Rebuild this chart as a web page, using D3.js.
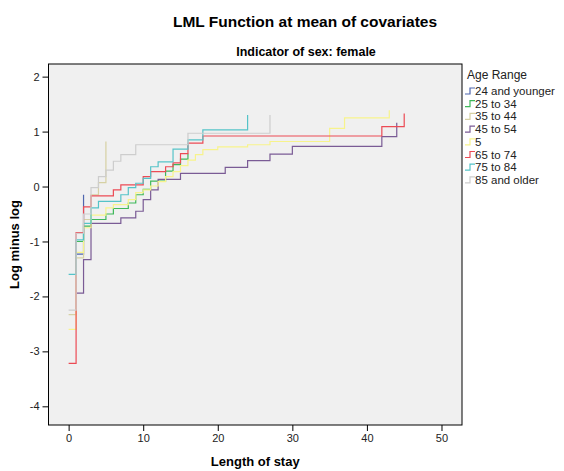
<!DOCTYPE html>
<html>
<head>
<meta charset="utf-8">
<script src="https://cdn.jsdelivr.net/npm/d3@7"></script>
<style>
  body { margin: 0; background: #ffffff; overflow: hidden; }
  svg { display: block; }
  text { font-family: Arial, "Liberation Sans", sans-serif; }
</style>
</head>
<body>
<div id="plotdiv"></div>
<script>
// Size of the figure
var outerWidth = 564;
var outerHeight = 471;
// Plot box inside the figure
var margin = { left: 48.5, top: 64, right: 102, bottom: 46 };
var innerWidth  = outerWidth  - margin.left - margin.right;
var innerHeight = outerHeight - margin.top  - margin.bottom;

// Legend labels, in drawing order
var groups = ["24 and younger", "25 to 34", "35 to 44", "45 to 54", "5", "65 to 74", "75 to 84", "85 and older"];
var colours = ["#4f66ae", "#3fb85a", "#d6d1a4", "#7a5b95", "#f7f38c", "#ec4b55", "#55c3c8", "#cdcdcd"];

// Step times (days) and log minus log values, one pair per group
var timesA = [1, 2];
var valsA  = [-1.23, -0.15];
var timesB = [1, 2, 3, 5, 6, 8, 9, 10, 11, 13, 14, 15, 16];
var valsB  = [-1.0, -0.72, -0.6, -0.5, -0.4, -0.3, -0.15, -0.05, 0.1, 0.28, 0.4, 0.5, 0.6];
var timesC = [0, 1, 2, 3, 4, 5];
var valsC  = [-2.33, -1.3, -0.6, -0.15, 0.07, 0.82];
var timesD = [1, 2, 3, 7, 9, 10, 11, 12, 15, 21, 24, 27, 30, 42, 44];
var valsD  = [-1.94, -1.33, -0.67, -0.57, -0.45, -0.24, -0.06, 0.13, 0.24, 0.35, 0.47, 0.59, 0.73, 0.91, 1.16];
var timesE = [0, 1, 2, 3, 5, 6, 8, 9, 10, 11, 12, 13, 14, 15, 16, 17, 18, 20, 24, 27, 35, 37, 43];
var valsE  = [-2.6, -1.2, -0.75, -0.52, -0.39, -0.33, -0.24, -0.11, -0.06, 0.01, 0.09, 0.18, 0.27, 0.38, 0.48, 0.58, 0.67, 0.72, 0.76, 0.82, 1.06, 1.25, 1.39];
var timesF = [0, 1, 2, 3, 6, 7, 10, 11, 13, 14, 15, 16, 18, 42, 45];
var valsF  = [-3.22, -0.84, -0.37, -0.17, -0.06, 0.03, 0.18, 0.27, 0.36, 0.43, 0.6, 0.79, 0.92, 1.09, 1.33];
var timesG = [0, 1, 2, 3, 4, 7, 8, 9, 10, 11, 12, 14, 16, 18, 24];
var valsG  = [-1.6, -0.97, -0.67, -0.39, -0.27, -0.15, -0.02, 0.06, 0.15, 0.36, 0.45, 0.68, 0.85, 1.03, 1.3];
var timesH = [0, 1, 2, 3, 4, 5, 6, 7, 9, 16, 27];
var valsH  = [-2.25, -0.85, -0.5, -0.02, 0.18, 0.3, 0.46, 0.58, 0.76, 0.97, 1.3];

var allTimes = [timesA, timesB, timesC, timesD, timesE, timesF, timesG, timesH];
var allVals  = [valsA, valsB, valsC, valsD, valsE, valsF, valsG, valsH];

// Tick values
var ticksX = [0, 10, 20, 30, 40, 50];
var ticksY = [-4, -3, -2, -1, 0, 1, 2];

// Create the svg canvas
var vis = d3.select("#plotdiv").append("svg")
  .attr("width",  outerWidth)
  .attr("height", outerHeight);

var g = vis.append("g")
  .attr("transform", "translate(" + margin.left + "," + margin.top + ")");

// Scales
var xScale = d3.scaleLinear().domain([-2.7, 52.75]).range([0, innerWidth]);
var yScale = d3.scaleLinear().domain([-4.34, 2.23]).range([innerHeight, 0]);

// Plot background
g.append("rect")
  .attr("width", innerWidth)
  .attr("height", innerHeight)
  .attr("fill", "#f0f0f0");

// Step lines
var line = d3.line()
  .x(function (d) { return xScale(d[0]); })
  .y(function (d) { return yScale(d[1]); })
  .curve(d3.curveStepAfter);

allTimes.forEach(function (ts, i) {
  var pts = ts.map(function (t, j) { return [t, allVals[i][j]]; });
  g.append("path")
    .attr("d", line(pts))
    .attr("fill", "none")
    .attr("stroke", colours[i])
    .attr("stroke-width", 1.2);
});

// Plot border
g.append("rect")
  .attr("width", innerWidth)
  .attr("height", innerHeight)
  .attr("fill", "none")
  .attr("stroke", "#000")
  .attr("stroke-width", 1);

// Axes - plain hyphen for negatives like the original
var axisX = d3.axisBottom(xScale).tickValues(ticksX).tickSize(6).tickSizeOuter(0)
  .tickFormat(function (d) { return String(d); });
var axisY = d3.axisLeft(yScale).tickValues(ticksY).tickSize(6).tickSizeOuter(0)
  .tickFormat(function (d) { return String(d); });

var gAxisX = g.append("g")
  .attr("transform", "translate(0," + innerHeight + ")")
  .call(axisX);
var gAxisY = g.append("g").call(axisY);

[gAxisX, gAxisY].forEach(function (ax) {
  ax.select(".domain").remove();
  ax.selectAll("line").attr("stroke", "#000");
  ax.selectAll("text")
    .attr("fill", "#222")
    .style("font-size", "11px")
    .style("font-family", "Arial, 'Liberation Sans', sans-serif");
});
gAxisX.selectAll("text").attr("dy", "0.9em").attr("y", 7);
gAxisY.selectAll("text").attr("x", -9);

// Titles
vis.append("text")
  .attr("x", 305).attr("y", 27)
  .attr("text-anchor", "middle")
  .style("font-size", "15.5px").style("font-weight", "bold")
  .text("LML Function at mean of covariates");

vis.append("text")
  .attr("x", 306).attr("y", 56)
  .attr("text-anchor", "middle")
  .style("font-size", "12.5px").style("font-weight", "bold")
  .text("Indicator of sex: female");

// Axis labels
vis.append("text")
  .attr("x", margin.left + innerWidth / 2).attr("y", 466)
  .attr("text-anchor", "middle")
  .style("font-size", "13px").style("font-weight", "bold")
  .text("Length of stay");

vis.append("text")
  .attr("transform", "translate(19," + (margin.top + innerHeight / 2) + ") rotate(-90)")
  .attr("text-anchor", "middle")
  .style("font-size", "13px").style("font-weight", "bold")
  .text("Log minus log");

// Legend
var gLegend = vis.append("g")
  .attr("transform", "translate(" + (margin.left + innerWidth + 3) + ",0)");

gLegend.append("text")
  .attr("x", 2).attr("y", 79)
  .style("font-size", "12px")
  .attr("fill", "#222")
  .text("Age Range");

var items = gLegend.selectAll("g.item").data(groups).enter().append("g")
  .attr("class", "item")
  .attr("transform", function (d, i) { return "translate(0," + (91 + i * 12.7) + ")"; });

items.append("path")
  .attr("d", "M0,3H5V-3H10")
  .attr("fill", "none")
  .attr("stroke", function (d, i) { return colours[i]; })
  .attr("stroke-width", 1.2);

items.append("text")
  .attr("x", 10).attr("y", 4)
  .style("font-size", "11.5px")
  .attr("fill", "#222")
  .text(function (d) { return d; });
</script>
</body>
</html>
